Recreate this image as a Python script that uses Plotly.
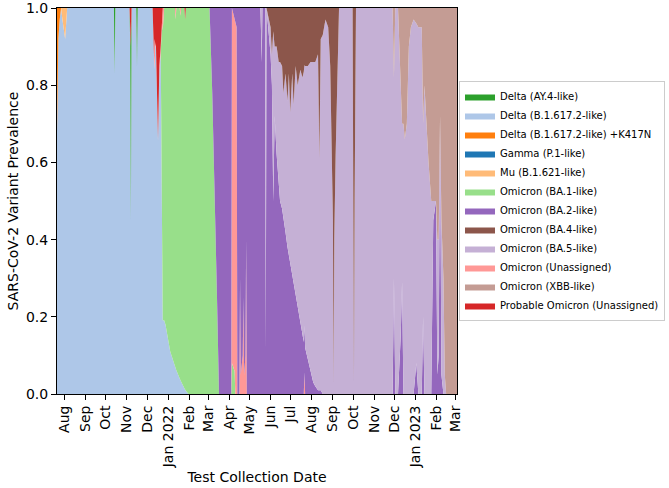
import plotly.graph_objects as go

# ---------------- data (prevalence fractions) ----------------
b16172_dates = ['2021-07-21', '2021-07-23', '2021-07-25', '2021-07-27', '2021-07-29', '2021-08-02', '2021-08-05',
                '2021-10-13', '2021-10-14', '2021-10-15', '2021-11-05', '2021-11-06', '2021-11-07', '2021-11-08',
                '2021-11-15', '2021-11-16', '2021-11-17', '2021-12-09', '2021-12-11', '2021-12-12', '2021-12-14',
                '2021-12-17', '2021-12-19', '2021-12-21', '2021-12-23', '2021-12-28', '2022-01-04', '2022-01-11',
                '2022-01-19', '2022-01-26', '2022-01-31']
b16172_vals = [0.68, 0.92, 0.97, 1.0, 0.97, 0.92, 1.0,
               1.0, 0.83, 1.0, 1.0, 0.90, 0.45, 1.0,
               1.0, 0.85, 1.0, 1.0, 0.88, 0.84, 0.90,
               0.66, 0.85, 0.90, 0.20, 0.18, 0.11, 0.07,
               0.035, 0.01, 0.0]

ay4_dates = ['2021-10-13', '2021-10-14', '2021-10-15', '2021-11-05', '2021-11-06', '2021-11-07', '2021-11-08',
             '2021-11-15', '2021-11-16', '2021-11-17']
ay4_vals = [0, 0.17, 0, 0, 0.05, 0.45, 0, 0, 0.15, 0]

k417n_dates = ['2021-07-21', '2021-07-23', '2021-07-25', '2021-07-27']
k417n_vals = [0.32, 0.08, 0.03, 0]

gamma_dates = ['2021-07-21', '2023-03-03']
gamma_vals = [0, 0]

mu_dates = ['2021-07-27', '2021-07-29', '2021-08-02', '2021-08-05']
mu_vals = [0, 0.03, 0.08, 0]

ba1_dates = ['2021-12-21', '2021-12-23', '2021-12-28', '2022-01-04', '2022-01-11', '2022-01-19', '2022-01-26',
             '2022-01-31', '2022-03-03', '2022-03-07', '2022-03-11', '2022-03-14', '2022-03-17', '2022-04-04',
             '2022-04-05', '2022-04-09', '2022-04-10']
ba1_vals = [0, 0.76, 0.82, 0.89, 0.93, 0.945, 0.96,
            1.0, 1.0, 0.78, 0.5, 0.25, 0, 0,
            0.08, 0.06, 0]

unas_dates = ['2021-12-11', '2021-12-12', '2021-12-13', '2021-12-23', '2021-12-24', '2021-12-26',
              '2022-01-11', '2022-01-12', '2022-01-13', '2022-01-18', '2022-01-19', '2022-01-20',
              '2022-04-04', '2022-04-05', '2022-04-08', '2022-04-12', '2022-04-13', '2022-04-16',
              '2022-04-17', '2022-04-18', '2022-04-21', '2022-04-22', '2022-04-23', '2022-04-25',
              '2022-04-26', '2022-04-27', '2022-07-20', '2022-07-21', '2022-07-22']
unas_vals = [0, 0.08, 0, 0.02, 0.06, 0,
             0, 0.03, 0, 0, 0.02, 0,
             0, 0.92, 0.92, 0.95, 0, 0,
             0.3, 0.05, 0.1, 0.25, 0.05, 0.1,
             0.4, 0, 0, 0.06, 0]

ba2_dates = ['2022-03-03', '2022-03-07', '2022-03-11', '2022-03-14', '2022-03-17', '2022-04-04', '2022-04-05',
             '2022-04-12', '2022-04-13', '2022-04-16', '2022-04-17', '2022-04-18', '2022-04-21', '2022-04-22',
             '2022-04-23', '2022-04-25', '2022-04-26', '2022-04-27', '2022-05-18', '2022-05-19', '2022-05-20',
             '2022-05-24', '2022-05-25', '2022-05-26',
             '2022-06-01', '2022-06-03', '2022-06-05', '2022-06-07', '2022-06-10', '2022-06-13', '2022-06-15',
             '2022-06-18', '2022-06-20', '2022-06-23', '2022-06-26', '2022-06-28', '2022-06-30', '2022-07-03',
             '2022-07-05', '2022-07-08', '2022-07-11', '2022-07-15', '2022-07-18', '2022-07-22', '2022-07-26',
             '2022-07-30', '2022-08-03', '2022-08-06', '2022-08-10', '2022-08-12', '2022-08-14', '2022-08-17',
             '2022-08-21',
             '2022-11-28', '2022-11-30', '2022-12-02', '2022-12-06', '2022-12-10', '2022-12-12', '2022-12-14',
             '2022-12-29', '2023-01-02', '2023-01-05', '2023-01-10', '2023-01-12', '2023-01-14', '2023-01-24',
             '2023-01-27', '2023-01-31', '2023-02-02', '2023-02-04', '2023-02-06', '2023-02-08', '2023-02-11']
ba2_vals = [0, 0.22, 0.5, 0.75, 1.0, 1.0, 0,
            0.05, 1.0, 1.0, 0.7, 0.95, 0.9, 0.75,
            0.95, 0.9, 0.6, 1.0, 1.0, 0.86, 1.0,
            1.0, 0.12, 1.0,
            0.88, 0.80, 0.50, 0.72, 0.62, 0.55, 0.50,
            0.48, 0.46, 0.42, 0.38, 0.36, 0.33, 0.30,
            0.28, 0.26, 0.22, 0.19, 0.15, 0.12, 0.09,
            0.06, 0.03, 0.02, 0.01, 0.01, 0.01, 0,
            0,
            0, 0.3, 0, 0, 0.15, 0.29, 0,
            0, 0.08, 0, 0, 0.2, 0, 0,
            0.45, 0.5, 0.05, 0.1, 0.72, 0.05, 0]

ba5_dates = ['2022-05-17', '2022-05-19', '2022-05-20', '2022-05-24', '2022-05-25', '2022-05-26',
             '2022-06-01', '2022-06-03', '2022-06-05', '2022-06-07', '2022-06-10', '2022-06-13', '2022-06-15',
             '2022-06-18', '2022-06-20', '2022-06-23', '2022-06-26', '2022-06-28', '2022-06-30', '2022-07-03',
             '2022-07-05', '2022-07-08', '2022-07-11', '2022-07-15', '2022-07-18', '2022-07-22', '2022-07-26',
             '2022-07-30', '2022-08-03', '2022-08-06', '2022-08-10', '2022-08-12', '2022-08-14', '2022-08-17',
             '2022-08-21', '2022-08-25', '2022-08-28', '2022-08-30', '2022-09-01', '2022-09-02', '2022-09-03',
             '2022-09-05', '2022-09-07', '2022-09-10', '2022-09-30', '2022-10-01', '2022-10-02', '2022-10-03',
             '2022-10-05',
             '2022-11-28', '2022-11-30', '2022-12-02', '2022-12-06', '2022-12-10', '2022-12-12', '2022-12-14',
             '2022-12-16', '2022-12-19', '2022-12-22', '2022-12-25', '2022-12-29', '2023-01-02', '2023-01-05',
             '2023-01-10', '2023-01-12', '2023-01-14', '2023-01-17', '2023-01-20', '2023-01-24', '2023-01-27',
             '2023-01-31', '2023-02-02', '2023-02-04', '2023-02-06', '2023-02-08', '2023-02-11', '2023-02-13',
             '2023-02-15']
ba5_vals = [0, 0.14, 0, 0, 0.88, 0,
            0.07, 0.08, 0.44, 0.18, 0.28, 0.31, 0.36,
            0.37, 0.32, 0.41, 0.38, 0.47, 0.40, 0.53,
            0.47, 0.59, 0.58, 0.65, 0.67, 0.73, 0.76,
            0.80, 0.83, 0.84, 0.87, 0.60, 0.91, 0.93,
            0.97, 0.95, 0.85, 0.65, 0.45, 0.03, 0.40,
            0.62, 0.80, 1.0, 1.0, 0.5, 0.03, 0.5,
            1.0,
            1.0, 0.52, 1.0, 1.0, 0.65, 0.41, 0.70,
            0.66, 0.70, 0.90, 0.95, 0.97, 0.88, 0.95,
            0.95, 0.5, 0.8, 0.68, 0.6, 0.5, 0.05,
            0, 0.35, 0.3, 0, 0.4, 0.3, 0.05,
            0]

ba4_dates = ['2022-05-26',
             '2022-06-01', '2022-06-03', '2022-06-05', '2022-06-07', '2022-06-10', '2022-06-13', '2022-06-15',
             '2022-06-18', '2022-06-20', '2022-06-23', '2022-06-26', '2022-06-28', '2022-06-30', '2022-07-03',
             '2022-07-05', '2022-07-08', '2022-07-11', '2022-07-15', '2022-07-18', '2022-07-22', '2022-07-26',
             '2022-07-30', '2022-08-03', '2022-08-06', '2022-08-10', '2022-08-12', '2022-08-14', '2022-08-17',
             '2022-08-21', '2022-08-25', '2022-08-28', '2022-08-30', '2022-09-01', '2022-09-02', '2022-09-03',
             '2022-09-05', '2022-09-07', '2022-09-10', '2022-09-30', '2022-10-01', '2022-10-02', '2022-10-03',
             '2022-10-05']
ba4_vals = [0,
            0.05, 0.12, 0.06, 0.10, 0.10, 0.14, 0.14,
            0.15, 0.22, 0.17, 0.24, 0.17, 0.27, 0.17,
            0.25, 0.15, 0.20, 0.16, 0.18, 0.15, 0.15,
            0.14, 0.14, 0.14, 0.12, 0.39, 0.08, 0.07,
            0.03, 0.05, 0.15, 0.35, 0.55, 0.97, 0.60,
            0.38, 0.20, 0, 0, 0.5, 0.97, 0.5,
            0]

xbb_dates = ['2022-11-28', '2022-11-30', '2022-12-02', '2022-12-06', '2022-12-10', '2022-12-12', '2022-12-14',
             '2022-12-16', '2022-12-19', '2022-12-22', '2022-12-25', '2022-12-29', '2023-01-02', '2023-01-05',
             '2023-01-10', '2023-01-12', '2023-01-14', '2023-01-17', '2023-01-20', '2023-01-24', '2023-01-27',
             '2023-01-31', '2023-02-02', '2023-02-04', '2023-02-06', '2023-02-08', '2023-02-11', '2023-02-13',
             '2023-02-15', '2023-03-03']
xbb_vals = [0, 0.18, 0, 0, 0.2, 0.3, 0.3,
            0.34, 0.3, 0.1, 0.05, 0.03, 0.04, 0.05,
            0.05, 0.3, 0.2, 0.32, 0.4, 0.5, 0.5,
            0.5, 0.6, 0.6, 0.28, 0.55, 0.7, 0.95,
            1.0, 1.0]

prob_dates = ['2021-11-05', '2021-11-06', '2021-11-07', '2021-11-08', '2021-12-09', '2021-12-11', '2021-12-12',
              '2021-12-14', '2021-12-17', '2021-12-19', '2021-12-21', '2021-12-23', '2021-12-24',
              '2022-01-25', '2022-01-26', '2022-01-27']
prob_vals = [0, 0.05, 0.10, 0, 0, 0.12, 0.08,
             0.10, 0.34, 0.15, 0.10, 0.02, 0,
             0, 0.03, 0]

month_ticks = ['2021-08-01', '2021-09-01', '2021-10-01', '2021-11-01', '2021-12-01', '2022-01-01',
               '2022-02-01', '2022-03-01', '2022-04-01', '2022-05-01', '2022-06-01', '2022-07-01',
               '2022-08-01', '2022-09-01', '2022-10-01', '2022-11-01', '2022-12-01', '2023-01-01',
               '2023-02-01', '2023-03-01']
month_labels = ['Aug', 'Sep', 'Oct', 'Nov', 'Dec', 'Jan 2022', 'Feb', 'Mar', 'Apr', 'May', 'Jun', 'Jul',
                'Aug', 'Sep', 'Oct', 'Nov', 'Dec', 'Jan 2023', 'Feb', 'Mar']

# ---------------- figure ----------------
# stacking order (bottom -> top); legendrank gives the alphabetical legend order
series = [
    ('Delta (B.1.617.2-like)', b16172_dates, b16172_vals, '#aec7e8', 2),
    ('Delta (AY.4-like)', ay4_dates, ay4_vals, '#2ca02c', 1),
    ('Delta (B.1.617.2-like) +K417N', k417n_dates, k417n_vals, '#ff7f0e', 3),
    ('Gamma (P.1-like)', gamma_dates, gamma_vals, '#1f77b4', 4),
    ('Mu (B.1.621-like)', mu_dates, mu_vals, '#ffbb78', 5),
    ('Omicron (BA.1-like)', ba1_dates, ba1_vals, '#98df8a', 6),
    ('Omicron (Unassigned)', unas_dates, unas_vals, '#ff9896', 10),
    ('Omicron (BA.2-like)', ba2_dates, ba2_vals, '#9467bd', 7),
    ('Omicron (BA.5-like)', ba5_dates, ba5_vals, '#c5b0d5', 9),
    ('Omicron (BA.4-like)', ba4_dates, ba4_vals, '#8c564b', 8),
    ('Omicron (XBB-like)', xbb_dates, xbb_vals, '#c49c94', 11),
    ('Probable Omicron (Unassigned)', prob_dates, prob_vals, '#d62728', 12),
]

fig = go.Figure()
for name, xs, ys, color, rank in series:
    fig.add_trace(go.Scatter(
        x=xs, y=ys, name=name, mode='lines',
        stackgroup='variants', groupnorm='fraction', stackgaps='interpolate',
        line=dict(width=0, color=color), fillcolor=color,
        legendrank=rank, hoverinfo='x+y+name',
    ))

font_family = 'DejaVu Sans, Arial, sans-serif'
fig.update_layout(
    width=669, height=488, autosize=False,
    margin=dict(l=57, r=212, t=8, b=94, autoexpand=False),
    paper_bgcolor='white', plot_bgcolor='white',
    font=dict(family=font_family, size=14, color='black'),
    showlegend=True,
    legend=dict(
        x=1.005, y=0.5, xanchor='left', yanchor='middle',
        traceorder='normal', itemwidth=30,
        font=dict(family=font_family, size=10, color='black'),
        bgcolor='white', bordercolor='#cccccc', borderwidth=1,
    ),
)
fig.update_xaxes(
    type='date', range=['2021-07-21', '2023-03-03'], automargin=False,
    tickmode='array', tickvals=month_ticks, ticktext=month_labels, tickangle=-90,
    ticks='outside', ticklen=5, tickwidth=1, tickcolor='black',
    showline=True, linecolor='black', linewidth=1, mirror=True,
    showgrid=False, zeroline=False, ticklabeloverflow='allow',
    tickfont=dict(size=14),
    title=dict(text='Test Collection Date', font=dict(size=14), standoff=4),
)
fig.update_yaxes(
    range=[0, 1], automargin=False,
    tickmode='array', tickvals=[0, 0.2, 0.4, 0.6, 0.8, 1.0],
    ticktext=['0.0', '0.2', '0.4', '0.6', '0.8', '1.0'],
    ticks='outside', ticklen=5, tickwidth=1, tickcolor='black',
    showline=True, linecolor='black', linewidth=1, mirror=True,
    showgrid=False, zeroline=False, ticklabeloverflow='allow',
    tickfont=dict(size=14),
    title=dict(text='SARS-CoV-2 Variant Prevalence', font=dict(size=14), standoff=4),
)

# remove the browser's default page margin so the 669x488 figure fills the window exactly
fig.write_html("out.html", config={'displayModeBar': False},
               post_script="document.body.style.margin='0px';document.body.style.overflow='hidden';")
